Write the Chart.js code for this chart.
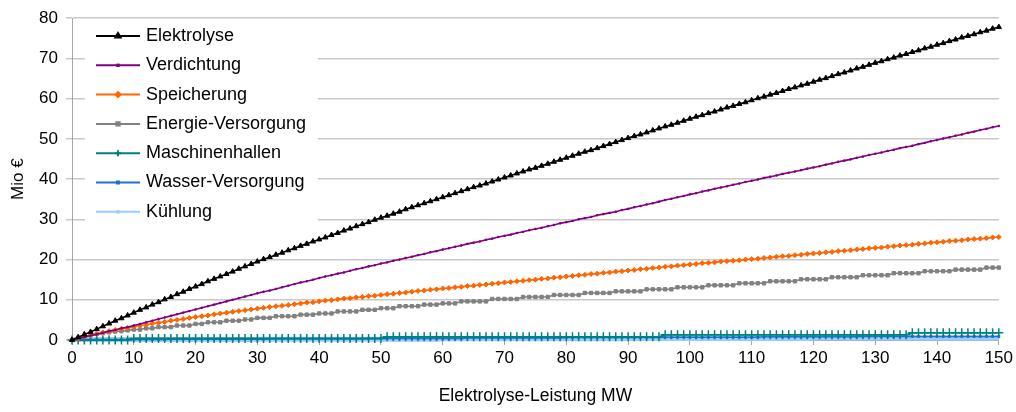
<!DOCTYPE html>
<html>
<head>
<meta charset="utf-8">
<script src="https://cdn.jsdelivr.net/npm/chart.js@4.4.0/dist/chart.umd.min.js"></script>
<style>
  html, body { margin: 0; padding: 0; background: #fff; }
  #wrap { width: 1016px; height: 412px; }
</style>
</head>
<body>
<div id="wrap"><canvas id="chart" width="1016" height="412"></canvas></div>
<script>
// --- Daten ---
const leistungMW = [
  0, 1, 2, 3, 4, 5, 6, 7, 8, 9, 10, 11, 12, 13, 14, 15, 16, 17, 18, 19,
  20, 21, 22, 23, 24, 25, 26, 27, 28, 29, 30, 31, 32, 33, 34, 35, 36, 37, 38, 39,
  40, 41, 42, 43, 44, 45, 46, 47, 48, 49, 50, 51, 52, 53, 54, 55, 56, 57, 58, 59,
  60, 61, 62, 63, 64, 65, 66, 67, 68, 69, 70, 71, 72, 73, 74, 75, 76, 77, 78, 79,
  80, 81, 82, 83, 84, 85, 86, 87, 88, 89, 90, 91, 92, 93, 94, 95, 96, 97, 98, 99,
  100, 101, 102, 103, 104, 105, 106, 107, 108, 109, 110, 111, 112, 113, 114, 115, 116, 117, 118, 119,
  120, 121, 122, 123, 124, 125, 126, 127, 128, 129, 130, 131, 132, 133, 134, 135, 136, 137, 138, 139,
  140, 141, 142, 143, 144, 145, 146, 147, 148, 149, 150
];

const elektrolyse = [
  0, 0.7, 1.4, 2.0, 2.7, 3.4, 4.1, 4.8, 5.4, 6.1,
  6.8, 7.5, 8.1, 8.8, 9.4, 10.1, 10.7, 11.4, 12.0, 12.7,
  13.3, 13.9, 14.6, 15.2, 15.8, 16.4, 17.0, 17.7, 18.3, 18.9,
  19.5, 20.1, 20.6, 21.2, 21.7, 22.3, 22.8, 23.4, 23.9, 24.5,
  25.0, 25.5, 26.1, 26.6, 27.2, 27.7, 28.3, 28.8, 29.3, 29.9,
  30.4, 30.9, 31.4, 31.9, 32.5, 33.0, 33.5, 34.0, 34.5, 35.0,
  35.5, 36.0, 36.5, 37.0, 37.5, 38.0, 38.4, 38.9, 39.4, 39.9,
  40.4, 40.9, 41.4, 41.9, 42.4, 42.8, 43.3, 43.8, 44.3, 44.8,
  45.3, 45.8, 46.3, 46.8, 47.2, 47.7, 48.2, 48.7, 49.2, 49.7,
  50.2, 50.7, 51.1, 51.6, 52.1, 52.6, 53.1, 53.5, 54.0, 54.5,
  55.0, 55.5, 55.9, 56.4, 56.8, 57.3, 57.8, 58.2, 58.7, 59.1,
  59.6, 60.1, 60.5, 61.0, 61.4, 61.9, 62.4, 62.8, 63.3, 63.7,
  64.2, 64.7, 65.1, 65.6, 66.1, 66.5, 67.0, 67.5, 67.9, 68.4,
  68.9, 69.3, 69.8, 70.2, 70.7, 71.1, 71.6, 72.0, 72.5, 72.9,
  73.4, 73.8, 74.3, 74.7, 75.2, 75.6, 76.0, 76.5, 76.9, 77.4,
  77.8
];

const verdichtung = [
  0, 0.4, 0.7, 1.1, 1.4, 1.8, 2.2, 2.5, 2.9, 3.2,
  3.6, 4.0, 4.4, 4.8, 5.2, 5.6, 6.0, 6.4, 6.8, 7.2,
  7.6, 8.0, 8.4, 8.8, 9.2, 9.6, 10.0, 10.4, 10.8, 11.2,
  11.6, 12.0, 12.3, 12.7, 13.1, 13.5, 13.9, 14.3, 14.6, 15.0,
  15.4, 15.8, 16.1, 16.5, 16.8, 17.2, 17.6, 17.9, 18.3, 18.6,
  19.0, 19.3, 19.7, 20.0, 20.4, 20.7, 21.1, 21.4, 21.8, 22.1,
  22.5, 22.8, 23.2, 23.5, 23.9, 24.2, 24.5, 24.9, 25.2, 25.6,
  25.9, 26.2, 26.6, 26.9, 27.3, 27.6, 27.9, 28.3, 28.6, 29.0,
  29.3, 29.6, 30.0, 30.3, 30.6, 31.0, 31.3, 31.6, 31.9, 32.3,
  32.6, 33.0, 33.3, 33.7, 34.0, 34.4, 34.8, 35.1, 35.5, 35.8,
  36.2, 36.5, 36.9, 37.2, 37.6, 37.9, 38.2, 38.6, 38.9, 39.3,
  39.6, 39.9, 40.3, 40.6, 40.9, 41.3, 41.6, 41.9, 42.2, 42.6,
  42.9, 43.2, 43.6, 43.9, 44.3, 44.6, 44.9, 45.3, 45.6, 46.0,
  46.3, 46.6, 47.0, 47.3, 47.7, 48.0, 48.3, 48.7, 49.0, 49.4,
  49.7, 50.1, 50.4, 50.8, 51.1, 51.5, 51.8, 52.2, 52.5, 52.9,
  53.2
];

const speicherung = [
  0, 0.4, 0.8, 1.2, 1.5, 1.9, 2.2, 2.5, 2.8, 3.0,
  3.3, 3.6, 3.8, 4.1, 4.3, 4.5, 4.8, 5.0, 5.2, 5.5,
  5.7, 5.9, 6.1, 6.4, 6.6, 6.8, 7.0, 7.2, 7.4, 7.6,
  7.8, 8.0, 8.2, 8.4, 8.5, 8.7, 8.9, 9.1, 9.3, 9.4,
  9.6, 9.8, 9.9, 10.1, 10.3, 10.4, 10.6, 10.7, 10.9, 11.0,
  11.2, 11.4, 11.5, 11.7, 11.8, 12.0, 12.2, 12.3, 12.5, 12.6,
  12.8, 12.9, 13.1, 13.2, 13.4, 13.5, 13.7, 13.8, 14.0, 14.1,
  14.3, 14.4, 14.6, 14.7, 14.9, 15.0, 15.2, 15.3, 15.5, 15.6,
  15.8, 15.9, 16.1, 16.2, 16.4, 16.5, 16.7, 16.8, 17.0, 17.1,
  17.3, 17.4, 17.6, 17.7, 17.9, 18.0, 18.2, 18.3, 18.5, 18.6,
  18.8, 18.9, 19.1, 19.2, 19.3, 19.5, 19.6, 19.7, 19.8, 20.0,
  20.1, 20.2, 20.4, 20.5, 20.7, 20.8, 20.9, 21.1, 21.2, 21.4,
  21.5, 21.6, 21.8, 21.9, 22.1, 22.2, 22.3, 22.5, 22.6, 22.8,
  22.9, 23.0, 23.2, 23.3, 23.5, 23.6, 23.7, 23.9, 24.0, 24.2,
  24.3, 24.4, 24.6, 24.7, 24.8, 25.0, 25.1, 25.2, 25.3, 25.5,
  25.6
];

const energieVersorgung = [
  0, 0.5, 0.9, 1.2, 1.5, 1.7, 1.9, 2.1, 2.2, 2.4,
  2.6, 2.6, 2.9, 2.9, 3.2, 3.2, 3.2, 3.6, 3.6, 3.6,
  4.0, 4.0, 4.4, 4.4, 4.4, 4.8, 4.8, 4.8, 5.1, 5.1,
  5.5, 5.5, 5.5, 5.9, 5.9, 5.9, 5.9, 6.3, 6.3, 6.3,
  6.6, 6.6, 6.6, 7.1, 7.1, 7.1, 7.1, 7.5, 7.5, 7.5,
  7.9, 7.9, 7.9, 8.4, 8.4, 8.4, 8.4, 8.8, 8.8, 8.8,
  9.1, 9.1, 9.1, 9.6, 9.6, 9.6, 9.6, 9.6, 10.2, 10.2,
  10.2, 10.2, 10.2, 10.7, 10.7, 10.7, 10.7, 10.7, 11.2, 11.2,
  11.2, 11.2, 11.2, 11.7, 11.7, 11.7, 11.7, 11.7, 12.1, 12.1,
  12.1, 12.1, 12.1, 12.6, 12.6, 12.6, 12.6, 12.6, 13.1, 13.1,
  13.1, 13.1, 13.1, 13.6, 13.6, 13.6, 13.6, 13.6, 14.1, 14.1,
  14.1, 14.1, 14.1, 14.6, 14.6, 14.6, 14.6, 14.6, 15.1, 15.1,
  15.1, 15.1, 15.1, 15.6, 15.6, 15.6, 15.6, 15.6, 16.1, 16.1,
  16.1, 16.1, 16.1, 16.6, 16.6, 16.6, 16.6, 16.6, 17.1, 17.1,
  17.1, 17.1, 17.1, 17.5, 17.5, 17.5, 17.5, 17.5, 18.0, 18.0,
  18.0
];

const maschinenhallen = [
  0, 0, 0, 0, 0, 0, 0, 0, 0, 0,
  0.4, 0.4, 0.4, 0.4, 0.4, 0.4, 0.4, 0.4, 0.4, 0.4,
  0.4, 0.4, 0.4, 0.4, 0.4, 0.4, 0.4, 0.4, 0.4, 0.4,
  0.4, 0.4, 0.4, 0.4, 0.4, 0.4, 0.4, 0.4, 0.4, 0.4,
  0.4, 0.4, 0.4, 0.4, 0.4, 0.4, 0.4, 0.4, 0.4, 0.4,
  0.4, 0.8, 0.8, 0.8, 0.8, 0.8, 0.8, 0.8, 0.8, 0.8,
  0.8, 0.8, 0.8, 0.8, 0.8, 0.8, 0.8, 0.8, 0.8, 0.8,
  0.8, 0.8, 0.8, 0.8, 0.8, 0.8, 0.8, 0.8, 0.8, 0.8,
  0.8, 0.8, 0.8, 0.8, 0.8, 0.8, 0.8, 0.8, 0.8, 0.8,
  0.8, 0.8, 0.8, 0.8, 0.8, 0.8, 1.3, 1.3, 1.3, 1.3,
  1.3, 1.3, 1.3, 1.3, 1.3, 1.3, 1.3, 1.3, 1.3, 1.3,
  1.3, 1.3, 1.3, 1.3, 1.3, 1.3, 1.3, 1.3, 1.3, 1.3,
  1.3, 1.3, 1.3, 1.3, 1.3, 1.3, 1.3, 1.3, 1.3, 1.3,
  1.3, 1.3, 1.3, 1.3, 1.3, 1.3, 1.8, 1.8, 1.8, 1.8,
  1.8, 1.8, 1.8, 1.8, 1.8, 1.8, 1.8, 1.8, 1.8, 1.8,
  1.8
];

const wasserVersorgung = [
  0, 0.1, 0.1, 0.1, 0.1, 0.1, 0.1, 0.1, 0.1, 0.1,
  0.1, 0.1, 0.1, 0.1, 0.1, 0.1, 0.2, 0.2, 0.2, 0.2,
  0.2, 0.2, 0.2, 0.2, 0.2, 0.2, 0.2, 0.2, 0.2, 0.2,
  0.2, 0.2, 0.3, 0.3, 0.3, 0.3, 0.3, 0.3, 0.3, 0.3,
  0.3, 0.3, 0.3, 0.3, 0.3, 0.3, 0.3, 0.3, 0.4, 0.4,
  0.4, 0.4, 0.4, 0.4, 0.4, 0.4, 0.4, 0.4, 0.4, 0.4,
  0.4, 0.4, 0.4, 0.4, 0.5, 0.5, 0.5, 0.5, 0.5, 0.5,
  0.5, 0.5, 0.5, 0.5, 0.5, 0.5, 0.5, 0.5, 0.5, 0.5,
  0.6, 0.6, 0.6, 0.6, 0.6, 0.6, 0.6, 0.6, 0.6, 0.6,
  0.6, 0.6, 0.6, 0.6, 0.6, 0.6, 0.7, 0.7, 0.7, 0.7,
  0.7, 0.7, 0.7, 0.7, 0.7, 0.7, 0.7, 0.7, 0.7, 0.7,
  0.7, 0.7, 0.8, 0.8, 0.8, 0.8, 0.8, 0.8, 0.8, 0.8,
  0.8, 0.8, 0.8, 0.8, 0.8, 0.8, 0.8, 0.8, 0.9, 0.9,
  0.9, 0.9, 0.9, 0.9, 0.9, 0.9, 0.9, 0.9, 0.9, 0.9,
  0.9, 0.9, 0.9, 0.9, 0.9, 0.9, 0.9, 0.9, 0.9, 0.9,
  0.9
];

const kuehlung = [
  0, 0.1, 0.1, 0.1, 0.1, 0.1, 0.1, 0.1, 0.1, 0.1,
  0.1, 0.1, 0.1, 0.1, 0.1, 0.1, 0.1, 0.1, 0.1, 0.1,
  0.1, 0.1, 0.1, 0.1, 0.1, 0.1, 0.1, 0.1, 0.1, 0.1,
  0.2, 0.2, 0.2, 0.2, 0.2, 0.2, 0.2, 0.2, 0.2, 0.2,
  0.2, 0.2, 0.2, 0.2, 0.2, 0.2, 0.2, 0.2, 0.2, 0.2,
  0.2, 0.2, 0.2, 0.2, 0.2, 0.2, 0.2, 0.2, 0.2, 0.2,
  0.3, 0.3, 0.3, 0.3, 0.3, 0.3, 0.3, 0.3, 0.3, 0.3,
  0.3, 0.3, 0.3, 0.3, 0.3, 0.3, 0.3, 0.3, 0.3, 0.3,
  0.3, 0.3, 0.3, 0.3, 0.3, 0.3, 0.3, 0.3, 0.3, 0.3,
  0.4, 0.4, 0.4, 0.4, 0.4, 0.4, 0.4, 0.4, 0.4, 0.4,
  0.4, 0.4, 0.4, 0.4, 0.4, 0.4, 0.4, 0.4, 0.4, 0.4,
  0.4, 0.4, 0.4, 0.4, 0.4, 0.4, 0.4, 0.4, 0.4, 0.4,
  0.5, 0.5, 0.5, 0.5, 0.5, 0.5, 0.5, 0.5, 0.5, 0.5,
  0.5, 0.5, 0.5, 0.5, 0.5, 0.5, 0.5, 0.5, 0.5, 0.5,
  0.5, 0.5, 0.5, 0.5, 0.5, 0.5, 0.5, 0.5, 0.5, 0.5,
  0.5
];

const seriesNames = ['Elektrolyse', 'Verdichtung', 'Speicherung', 'Energie-Versorgung',
                     'Maschinenhallen', 'Wasser-Versorgung', 'Kühlung'];
const seriesColors = ['#000000', '#800080', '#FF6600', '#808080', '#008080', '#1F6FD6', '#99CCFF'];
const yTicks = [0, 10, 20, 30, 40, 50, 60, 70, 80];
const xTicks = [0, 10, 20, 30, 40, 50, 60, 70, 80, 90, 100, 110, 120, 130, 140, 150];

const FONT = '"Liberation Sans", Arial, sans-serif';

// Linienstil pro Reihe
const styles = [
  { pointStyle: 'triangle', pointRadius: 3, borderWidth: 1.6 },
  { pointStyle: 'rect', pointRadius: 1, borderWidth: 1.6 },
  { pointStyle: 'rectRot', pointRadius: 2.5, borderWidth: 1.6 },
  { pointStyle: 'rect', pointRadius: 2.4, borderWidth: 1.6 },
  { pointStyle: 'cross', pointRadius: 4.5, borderWidth: 1.5 },
  { pointStyle: 'rect', pointRadius: 1.4, borderWidth: 1.5 },
  { pointStyle: 'rect', pointRadius: 1, borderWidth: 5 }
];

const allSeries = [elektrolyse, verdichtung, speicherung, energieVersorgung,
                   maschinenhallen, wasserVersorgung, kuehlung];

const datasets = allSeries.map((values, i) => ({
  label: seriesNames[i],
  data: values,
  borderColor: seriesColors[i],
  backgroundColor: seriesColors[i],
  pointBackgroundColor: seriesColors[i],
  pointBorderColor: seriesColors[i],
  pointBorderWidth: i === 4 ? 1.5 : 1,
  borderWidth: styles[i].borderWidth,
  pointStyle: styles[i].pointStyle,
  pointRadius: styles[i].pointRadius,
  pointHoverRadius: styles[i].pointRadius,
  tension: 0,
  fill: false,
  clip: false
}));

// --- Legende innerhalb der Zeichenfläche ---
const insideLegend = {
  id: 'insideLegend',
  afterDraw(chart) {
    const ctx = chart.ctx;
    ctx.save();
    ctx.fillStyle = '#ffffff';
    ctx.fillRect(85, 21, 233, 206);
    chart.data.datasets.forEach((ds, i) => {
      const y = 36 + i * 29.3;
      ctx.strokeStyle = ds.borderColor;
      ctx.lineWidth = 2;
      ctx.beginPath();
      ctx.moveTo(96, y);
      ctx.lineTo(140, y);
      ctx.stroke();
      ctx.fillStyle = ds.pointBackgroundColor;
      ctx.strokeStyle = ds.pointBorderColor;
      Chart.helpers.drawPoint(ctx, {
        pointStyle: ds.pointStyle,
        radius: Math.min(ds.pointRadius, 3),
        borderWidth: ds.pointBorderWidth,
        rotation: 0
      }, 118, y);
      ctx.fillStyle = '#000';
      ctx.font = '18px ' + FONT;
      ctx.textBaseline = 'middle';
      ctx.textAlign = 'left';
      ctx.fillText(ds.label, 146, y);
    });
    ctx.restore();
  }
};

const ctx = document.getElementById('chart').getContext('2d');
new Chart(ctx, {
  type: 'line',
  data: { labels: leistungMW, datasets: datasets },
  plugins: [insideLegend],
  options: {
    responsive: false,
    animation: false,
    devicePixelRatio: 1,
    layout: { padding: { top: 18, right: 16, left: 0, bottom: 0 } },
    plugins: { legend: { display: false }, tooltip: { enabled: false } },
    scales: {
      x: {
        type: 'linear',
        min: 0,
        max: 150,
        afterFit: s => { s.height = 72; },
        afterBuildTicks: s => { s.ticks = xTicks.map(v => ({ value: v })); },
        border: { color: '#A6A6A6', width: 1 },
        grid: { drawOnChartArea: false, drawTicks: true, tickLength: 5, color: '#A6A6A6' },
        ticks: { color: '#000', padding: 3, maxRotation: 0, font: { family: FONT, size: 17 } },
        title: {
          display: true,
          text: 'Elektrolyse-Leistung MW',
          color: '#000',
          font: { family: FONT, size: 17.5 },
          padding: { top: 0, bottom: 5 }
        }
      },
      y: {
        min: 0,
        max: 80,
        afterFit: s => { s.width = 72; },
        afterBuildTicks: s => { s.ticks = yTicks.map(v => ({ value: v })); },
        border: { color: '#A6A6A6', width: 1 },
        grid: { color: '#C8C8C8', lineWidth: 1.5, tickLength: 6 },
        ticks: { color: '#000', padding: 8, font: { family: FONT, size: 17 } },
        title: {
          display: true,
          text: 'Mio €',
          color: '#000',
          font: { family: FONT, size: 17 },
          padding: { top: 8, bottom: 0 }
        }
      }
    }
  }
});
</script>
</body>
</html>
